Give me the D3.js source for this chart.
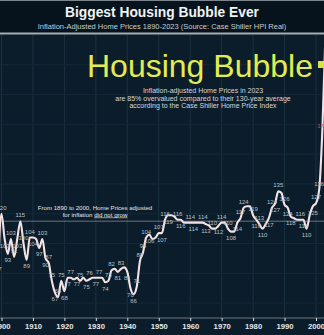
<!DOCTYPE html>
<html><head><meta charset="utf-8">
<script src="https://cdn.jsdelivr.net/npm/d3@7"></script>
<style>html,body{margin:0;padding:0;background:#0b1d2a;overflow:hidden}svg{display:block}</style>
</head><body><svg id="c" width="324" height="335"></svg>
<script>
// ---- data ----
const years = [1899,1900,1901,1902,1903,1904,1905,1906,1907,1908,1909,
  1910,1911,1912,1913,1914,1915,1916,1917,1918,1919,
  1920,1921,1922,1923,1924,1925,1926,1927,1928,1929,
  1930,1931,1932,1933,1934,1935,1936,1937,1938,1939,
  1940,1941,1942,1943,1944,1945,1946,1947,1948,1949,
  1950,1951,1952,1953,1954,1955,1956,1957,1958,1959,
  1960,1961,1962,1963,1964,1965,1966,1967,1968,1969,
  1970,1971,1972,1973,1974,1975,1976,1977,1978,1979,
  1980,1981,1982,1983,1984,1985,1986,1987,1988,1989,
  1990,1991,1992,1993,1994,1995,1996,1997,1998,1999,
  2000,2001,2002,2003];
const prices = [87,120,103,93,103,91,103,115,100,89,104,
  104,103,97,103,90,87,75,67,64,75,
  68,77,77,76,77,75,77,75,76,77,
  77,77,77,74,75,82,83,81,83,84,
  81,70,66,71,88,94,104,106,103,104,
  107,107,116,119,119,118,116,116,114,114,
  114,114,114,114,114,113,112,110,110,112,
  114,114,110,108,108,114,117,124,125,125,
  119,116,113,110,113,117,124,127,135,134,
  126,124,118,117,116,116,116,110,119,125,
  127,136,175,240];
const tickYears = [1900,1910,1920,1930,1940,1950,1960,1970,1980,1990,2000];
const gridValues = [60,80,100,120,140,160,180,200,220];
const averageValue = 115;
const titleText = "Biggest Housing Bubble Ever";
const subtitleText = "Inflation-Adjusted Home Prices 1890-2023 (Source: Case Shiller HPI Real)";
const bigText = "Housing Bubble";
const noteLines = ["Inflation-adjusted Home Prices in 2023",
  "are 85% overvalued compared to their 130-year average",
  "according to the Case Shiller Home Price Index"];
const leftNote1 = "From 1890 to 2000, Home Prices adjusted";
const leftNote2a = "for inflation ";
const leftNote2b = "did not grow";

// ---- drawing ----
const W = 324, H = 335;
const FONT = "Liberation Sans, Arial, sans-serif";
const svg = d3.select("#c");
const x = d3.scaleLinear().domain([1900, 2000]).range([1.5, 316]);
const y = d3.scaleLinear().domain([50, 240]).range([318, 35]);
const data = years.map((yr, i) => ({year: yr, v: prices[i]}));

svg.append("rect").attr("width", W).attr("height", H).attr("fill", "#0b1d2a");
svg.append("rect").attr("width", W).attr("height", 33).attr("fill", "#06131c");
svg.append("rect").attr("y", 0).attr("width", W).attr("height", 1).attr("fill", "#7d858c");
svg.append("rect").attr("y", 32.5).attr("width", W).attr("height", 2).attr("fill", "#a4abb1");

const defs = svg.append("defs");
defs.append("clipPath").attr("id", "plot").append("rect")
  .attr("x", 0).attr("y", 35).attr("width", W).attr("height", 300);

const grid = svg.append("g").attr("clip-path", "url(#plot)");
grid.selectAll(".vg").data(tickYears).join("line")
  .attr("x1", d => x(d)).attr("x2", d => x(d)).attr("y1", 35).attr("y2", 318)
  .attr("stroke", "#1b3242").attr("stroke-width", 1);
grid.selectAll(".hg").data(gridValues).join("line")
  .attr("x1", 0).attr("x2", W).attr("y1", d => y(d)).attr("y2", d => y(d))
  .attr("stroke", "#142938").attr("stroke-width", 1);
grid.append("line").attr("x1", 0).attr("x2", W)
  .attr("y1", y(averageValue)).attr("y2", y(averageValue))
  .attr("stroke", "#7f8b95").attr("stroke-width", 1).attr("opacity", 0.8);

// axis
const ax = svg.append("g").attr("transform", "translate(0,318)")
  .call(d3.axisBottom(x).tickValues(tickYears).tickFormat(d3.format("d")).tickSize(3));
ax.select(".domain").attr("stroke", "#6b767e").attr("d", `M0,0H${W}`);
ax.selectAll(".tick line").attr("stroke", "#e0e0e0");
ax.selectAll("text").attr("fill", "#e8e8e8").attr("font-family", FONT)
  .attr("font-size", 7.7).attr("font-weight", "bold");

// line
const plot = svg.append("g").attr("clip-path", "url(#plot)");
const line = d3.line().x(d => x(d.year)).y(d => y(d.v)).curve(d3.curveMonotoneX);
plot.append("path").datum(data).attr("d", line).attr("fill", "none")
  .attr("stroke", "#f4e3e6").attr("stroke-width", 2.1)
  .attr("stroke-linejoin", "round").attr("stroke-linecap", "round");

// point labels, placed greedily so they do not overlap each other
const placed = [];
const blocked = [
  {x0: 36, x1: 154, y0: 204, y1: 218} // left note block
];
function hits(b) {
  return placed.concat(blocked).some(o => b.x0 < o.x1 && b.x1 > o.x0 && b.y0 < o.y1 && b.y1 > o.y0);
}
const labelData = [];
data.forEach((d, i) => {
  const p = i > 0 ? prices[i - 1] : d.v, n = i < prices.length - 1 ? prices[i + 1] : d.v;
  let pref;
  if (d.v >= p && d.v >= n) pref = "a";
  else if (d.v <= p && d.v <= n) pref = "b";
  else pref = (d.year % 2 === 0) ? "a" : "b";
  const cx = x(d.year), cy = y(d.v);
  const w = String(d.v).length * 3.3;
  const opts = pref === "a" ? [-4, 8.5] : [8.5, -4];
  for (const dy of opts) {
    const by = cy + dy;
    const b = {x0: cx - w / 2, x1: cx + w / 2, y0: by - 4.6, y1: by + 0.6};
    if (!hits(b)) { placed.push(b); labelData.push({...d, lx: cx, ly: by}); break; }
  }
});
plot.selectAll(".pl").data(labelData).join("text")
  .attr("x", d => d.lx).attr("y", d => d.ly)
  .attr("text-anchor", "middle").attr("font-family", FONT).attr("font-size", 6)
  .attr("fill", d => d.v > 140 ? "#d24a4a" : "#b9c0c6")
  .text(d => d.v);

// titles
svg.append("text").attr("x", 162).attr("y", 16.5).attr("text-anchor", "middle")
  .attr("font-family", FONT).attr("font-weight", "bold")
  .attr("font-size", 13.8).attr("fill", "#f2f2f2").text(titleText);
svg.append("text").attr("x", 162).attr("y", 28.5).attr("text-anchor", "middle")
  .attr("font-family", FONT)
  .attr("font-size", 7.5).attr("fill", "#c9cdd1").text(subtitleText);

svg.append("text").attr("x", 87).attr("y", 76.5)
  .attr("font-family", FONT)
  .attr("font-size", 32).attr("fill", "#e3ec52").text(bigText);
svg.append("rect").attr("x", 318).attr("y", 61).attr("width", 7).attr("height", 7).attr("fill", "#d9e243");

svg.selectAll(".note").data(noteLines).join("text")
  .attr("x", 203).attr("y", (d, i) => 93 + i * 7.6).attr("text-anchor", "middle")
  .attr("font-family", FONT)
  .attr("font-size", 7).attr("fill", "#d4d8dc").text(d => d);

svg.append("text").attr("x", 95).attr("y", 210).attr("text-anchor", "middle")
  .attr("font-family", FONT)
  .attr("font-size", 6.1).attr("fill", "#e2e5e8").text(leftNote1);
const t2 = svg.append("text").attr("x", 95).attr("y", 216.5).attr("text-anchor", "middle")
  .attr("font-family", FONT)
  .attr("font-size", 6.1).attr("fill", "#e2e5e8");
t2.append("tspan").text(leftNote2a);
t2.append("tspan").attr("text-decoration", "underline").text(leftNote2b);
</script>
</body></html>
